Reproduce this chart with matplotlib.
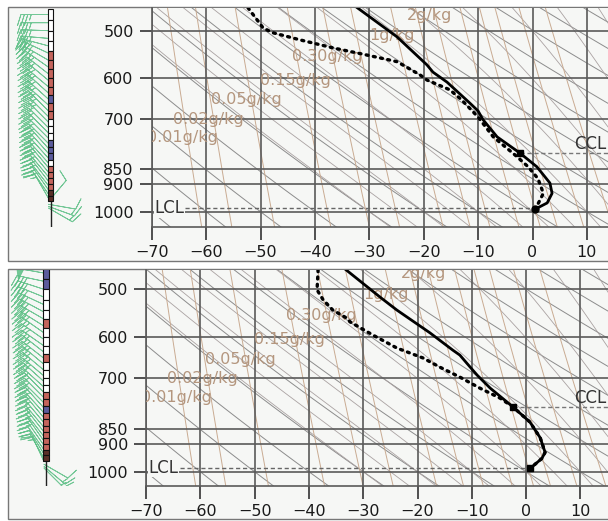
import numpy as np
import matplotlib
matplotlib.use('Agg')
import matplotlib.pyplot as plt
from matplotlib.patches import Rectangle

pressureTicks = [500, 600, 700, 850, 900, 1000]
tempTicks = [-70, -60, -50, -40, -30, -20, -10, 0, 10]

mixRatios = [0.01, 0.02, 0.05, 0.15, 0.3, 0.5, 1, 1.5, 2, 3, 4, 5, 7, 10]
labelRatios = [0.01, 0.02, 0.05, 0.15, 0.30, 1, 2]
labelText = ['0.01g/kg', '0.02g/kg', '0.05g/kg', '0.15g/kg', '0.30g/kg', '1g/kg', '2g/kg']
labelLevel = [754, 703, 652, 604, 553, 510, 471]

# sounding 1 (upper panel)
tempP1 = [458, 512, 570, 586, 609, 660, 680, 703, 751, 799, 842, 896, 932, 967, 987, 990]
tempT1 = [-32.2, -24.9, -19.4, -18.3, -15.7, -11.5, -10.0, -9.1, -6.5, -2.3, 0.8, 3.2, 3.6, 2.7, 0.8, 0.5]
dewP1 = [458, 495, 504, 518, 534, 547, 563, 592, 604, 627, 652, 696, 751, 805, 842, 881, 932, 971, 987, 990]
dewT1 = [-52.3, -49.5, -47.7, -42.7, -36.7, -31.2, -24.9, -20.7, -19.4, -15.2, -13.0, -10.0, -7.2, -3.2, -0.8, 1.0, 2.0, 1.0, 0.5, 0.5]
cclP1, cclT1 = 799, -2.3
lclP1 = 987

# sounding 2 (lower panel)
tempP2 = [464, 515, 541, 590, 630, 642, 672, 693, 728, 782, 828, 879, 929, 951, 978, 987]
tempT2 = [-33.2, -26.9, -23.8, -17.7, -13.5, -12.2, -10.3, -9.0, -6.6, -2.4, 0.7, 2.6, 3.5, 2.9, 1.3, 0.7]
dewP2 = [464, 501, 520, 541, 558, 566, 595, 625, 649, 672, 698, 728, 756, 782, 828, 879, 929, 951, 978, 987]
dewT2 = [-38.3, -38.5, -37.4, -35.6, -33.0, -32.4, -28.2, -23.8, -19.0, -15.9, -12.2, -8.5, -4.8, -2.4, 0.7, 2.6, 3.5, 2.9, 1.3, 0.7]
cclP2, cclT2 = 782, -2.4
lclP2 = 985

# stability column cells, 20 hPa each from 460 hPa down
cellEdges = list(range(460, 961, 20))
cells1 = 'WWWWRRRRRBRRWWWBBBWRRRRDD'
cells2 = 'BBWWWRWWWRWWWWRRBRRRRRRDD'
cellColors = {'W': '#ffffff', 'R': '#c4645c', 'B': '#5c5c9c', 'D': '#5a3028'}

# winds
windP = [470, 485, 500, 515, 530, 545, 560, 575, 590, 605, 620, 635, 650, 665, 680, 695,
         710, 725, 740, 755, 770, 785, 800, 815, 830, 845, 860, 875, 890, 905, 920,
         935, 950, 962, 972, 980, 986]
windDir1 = [270, 270, 272, 275, 285, 295, 300, 305, 308, 310, 310, 312, 312, 312, 315, 315,
            315, 315, 315, 315, 315, 318, 318, 318, 318, 320, 320, 320, 322, 322, 325,
            325, 330, 40, 100, 110, 120]
windSpd1 = [35, 35, 35, 35, 35, 35, 35, 40, 40, 40, 40, 40, 35, 35, 35, 35,
            30, 30, 30, 30, 30, 30, 30, 30, 30, 30, 25, 25, 25, 25, 25,
            20, 15, 10, 10, 15, 15]
windDir2 = [280, 282, 288, 292, 295, 298, 300, 302, 305, 305, 305, 308, 308, 310, 310, 310,
            312, 312, 315, 315, 315, 318, 318, 320, 320, 320, 322, 322, 325, 325, 325,
            328, 330, 335, 120, 130, 135]
windSpd2 = [50, 40, 40, 40, 40, 40, 40, 35, 35, 35, 35, 35, 35, 35, 35, 35,
            30, 30, 30, 30, 30, 30, 30, 25, 25, 25, 25, 25, 25, 20, 20,
            20, 20, 15, 10, 15, 15]

W, H = 608.0, 521.0


def satVap(t):
    return 6.112*np.exp(17.67*t/(t+243.5))


def mixDew(w, p):
    e = w*p/(622.0+w)
    lg = np.log(e/6.112)
    return 243.5*lg/(17.67-lg)


def moistRate(p, tK):
    es = satVap(tK-273.15)
    rs = 0.622*es/(p-es)
    num = 287.04*tK + 2.501e6*rs
    den = 1005.7 + 2.501e6**2*rs*0.622/(287.04*tK**2)
    return num/(den*p)


def moistLine(t0, pEnd):
    ps = np.linspace(1000, pEnd, 200)
    ts = [t0+273.15]
    for i in range(1, len(ps)):
        dp = ps[i]-ps[i-1]
        k1 = moistRate(ps[i-1], ts[-1])
        k2 = moistRate(ps[i-1]+dp/2, ts[-1]+k1*dp/2)
        ts.append(ts[-1]+k2*dp)
    return ps, np.array(ts)-273.15


def drawBackground(ax, pBottom, pTop):
    pp = np.linspace(pBottom, pTop, 120)
    for t0 in range(-90, 100, 10):
        theta = t0+273.15
        ax.plot(theta*(pp/1000.0)**0.2857-273.15, pp, color='#8c8c8c', lw=0.7, zorder=1)
    for t0 in range(-30, 45, 5):
        for pEnd in (pTop, pBottom):
            mp, mt = moistLine(t0, pEnd)
            ax.plot(mt, mp, color='#aaa2a2', lw=0.6, zorder=1)
    for w in mixRatios:
        ax.plot(mixDew(w, pp), pp, color='#c9ab92', lw=0.7, zorder=1)
    for w, txt, lev in zip(labelRatios, labelText, labelLevel):
        ax.text(mixDew(w, lev)-1.0, lev, txt, color='#b4967e', fontsize=11.5,
                ha='center', va='center', zorder=3, clip_on=True)


def drawPanel(rect, xRight, pBottom, pTop, tempP, tempT, dewP, dewT, cclP, cclT, lclP,
              surfMarker, colX, cells, windDir, windSpd):
    x0, y0, x1, y1 = rect
    ax = fig.add_axes([x0/W, 1-y1/H, (W-x0)/W, (y1-y0)/H])
    ax.set_facecolor('#f6f7f5')
    ax.set_yscale('log')
    ax.set_ylim(pBottom, pTop)
    ax.set_xlim(-70, xRight)
    ax.set_yticks(pressureTicks)
    ax.set_yticklabels([str(p) for p in pressureTicks])
    ax.yaxis.set_minor_locator(matplotlib.ticker.NullLocator())
    ax.set_xticks(tempTicks)
    ax.grid(True, color='#5a5a5a', lw=1.2, zorder=2)
    for s in ['top', 'right']:
        ax.spines[s].set_visible(False)
    for s in ['left', 'bottom']:
        ax.spines[s].set_color('#5a5a5a')
        ax.spines[s].set_linewidth(1.2)
    ax.tick_params(direction='out', length=9, width=1.2, color='#333333',
                   labelsize=11.5, pad=4, labelcolor='#1a1a1a')

    drawBackground(ax, pBottom, pTop)

    ax.plot(tempT, tempP, color='black', lw=2.0, zorder=5)
    ax.plot(dewT, dewP, color='black', lw=2.4, linestyle=(0, (0.6, 1.6)),
            dash_capstyle='round', zorder=5)
    ax.plot([tempT[-1]], [tempP[-1]], marker=surfMarker, color='black', ms=5, zorder=6)
    ax.plot([cclT], [cclP], marker='s', color='black', ms=4, zorder=6)

    ax.plot([cclT, xRight], [cclP, cclP], color='#777777', lw=1.0, ls=(0, (3, 2)), zorder=4)
    ax.text(xRight-0.3, cclP, 'CCL', fontsize=12, color='#333333', ha='right', va='bottom', zorder=6)
    ax.plot([-63.8, tempT[-1]], [lclP, lclP], color='#666666', lw=1.0, ls=(0, (3, 2)), zorder=4)
    ax.text(-69.5, lclP, 'LCL', fontsize=12, color='#333333', ha='left', va='center', zorder=6,
            bbox=dict(facecolor='#f6f7f5', edgecolor='none', pad=0.5))

    # wind barbs and stability column
    wax = fig.add_axes([8/W, 1-y1/H, (x0-8)/W, (y1-y0)/H])
    wax.set_yscale('log')
    wax.set_ylim(pBottom, pTop)
    wax.set_xlim(8, x0)
    wax.axis('off')
    spd = np.array(windSpd, dtype=float)
    rad = np.deg2rad(windDir)
    u = -spd*np.sin(rad)
    v = -spd*np.cos(rad)
    wax.barbs(np.full(len(windP), colX-2.0), windP, u, v, length=6.3, color='#5cbf85',
              linewidth=0.6, alpha=0.85, flip_barb=True, zorder=2)
    wax.plot([colX, colX], [cellEdges[-1], pBottom], color='#222222', lw=1.0, zorder=3)
    for i, c in enumerate(cells):
        wax.add_patch(Rectangle((colX-2.8, cellEdges[i]), 5.6, cellEdges[i+1]-cellEdges[i],
                                facecolor=cellColors[c], edgecolor='#111111', lw=0.8, zorder=4))
    return ax


fig = plt.figure(figsize=(W/100, H/100), dpi=100)
fig.patch.set_facecolor('white')
fig.add_artist(Rectangle((8/W, 1-261/H), 1.0, 254/H, transform=fig.transFigure,
                         facecolor='#f6f7f5', edgecolor='#777777', lw=1.0, zorder=0))
fig.add_artist(Rectangle((8/W, 1-519/H), 1.0, 250/H, transform=fig.transFigure,
                         facecolor='#f6f7f5', edgecolor='#777777', lw=1.0, zorder=0))

drawPanel((151.7, 8, 608, 227.3), -70+456.3/5.44, 1061.6, 458.4,
          tempP1, tempT1, dewP1, dewT1, cclP1, cclT1, lclP1, 'o', 50.5, cells1,
          windDir1, windSpd1)
drawPanel((146, 270, 608, 486), -70+462/5.43, 1055.8, 464.6,
          tempP2, tempT2, dewP2, dewT2, cclP2, cclT2, lclP2, 's', 46, cells2,
          windDir2, windSpd2)

fig.savefig('out.png', dpi=100)
